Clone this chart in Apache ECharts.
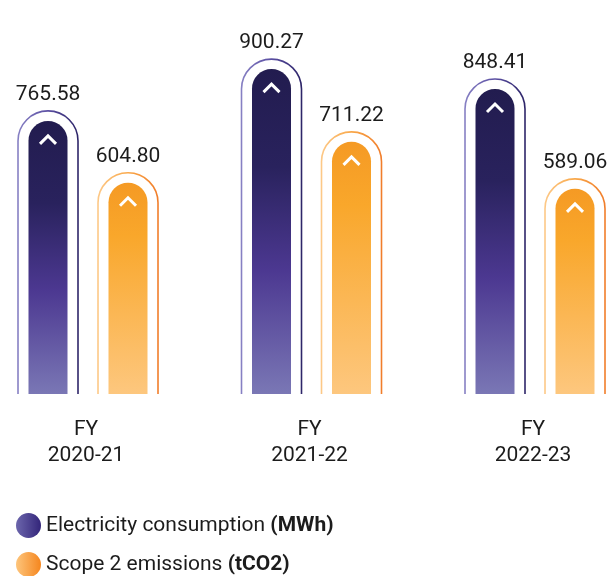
<!DOCTYPE html>
<html>
<head>
<meta charset="utf-8">
<script src="https://cdn.jsdelivr.net/npm/echarts@6/dist/echarts.min.js"></script>
<style>
html,body{margin:0;padding:0;background:#fff;}
#c{width:608px;height:576px;}
</style>
</head>
<body>
<div id="c"></div>
<script>
const categories = ['FY\n2020-21', 'FY\n2021-22', 'FY\n2022-23'];
const seriesNames = ['Electricity consumption', 'Scope 2 emissions'];
const units = ['(MWh)', '(tCO2)'];
const electricity = [765.58, 900.27, 848.41];
const scope2 = [604.80, 711.22, 589.06];

const chart = echarts.init(document.getElementById('c'), null, {renderer: 'canvas'});
const G = echarts.graphic.LinearGradient;
const Y_MIN = 56, Y_MAX = 1000;

const themes = [
  {
    offset: -38,
    fill: () => new G(0, 0, 0, 1, [
      {offset: 0, color: '#221c4f'},
      {offset: 0.3, color: '#29225d'},
      {offset: 0.62, color: '#4c3891'},
      {offset: 1, color: '#7a77b5'}
    ]),
    stroke: () => new G(0, 0, 1, 0, [
      {offset: 0, color: '#8a84c6'},
      {offset: 0.5, color: '#5a4ea2'},
      {offset: 1, color: '#2a2264'}
    ]),
    legend: () => new G(0, 0, 1, 0, [
      {offset: 0, color: '#6c66ac'},
      {offset: 1, color: '#33257a'}
    ])
  },
  {
    offset: 42,
    fill: () => new G(0, 0, 0, 1, [
      {offset: 0, color: '#f59a24'},
      {offset: 0.25, color: '#f9a72b'},
      {offset: 1, color: '#fdc77e'}
    ]),
    stroke: () => new G(0, 0, 1, 0, [
      {offset: 0, color: '#fdcb8c'},
      {offset: 0.5, color: '#f9a84a'},
      {offset: 1, color: '#f07a28'}
    ]),
    legend: () => new G(0, 0, 1, 0, [
      {offset: 0, color: '#fdc57c'},
      {offset: 1, color: '#f5861e'}
    ])
  }
];

function makeRender(t) {
  return function (params, api) {
    const i = api.value(0);
    const v = api.value(1);
    const p = api.coord([i, v]);
    const b = api.coord([i, Y_MIN]);
    const cx = p[0] + t.offset;
    const top = p[1];
    const bottom = b[1];
    const hw = 19.5;
    const ohw = 30;
    const otop = top - 10;
    const path = 'M ' + (cx - ohw) + ' ' + bottom +
      ' L ' + (cx - ohw) + ' ' + (otop + ohw) +
      ' A ' + ohw + ' ' + ohw + ' 0 0 1 ' + (cx + ohw) + ' ' + (otop + ohw) +
      ' L ' + (cx + ohw) + ' ' + bottom;
    return {
      type: 'group',
      children: [
        {
          type: 'path',
          shape: {pathData: path},
          style: {fill: null, stroke: t.stroke(), lineWidth: 1.6}
        },
        {
          type: 'rect',
          shape: {x: cx - hw, y: top, width: hw * 2, height: bottom - top, r: [hw, hw, 0, 0]},
          style: {fill: t.fill()}
        },
        {
          type: 'polyline',
          shape: {points: [[cx - 8, top + 23], [cx, top + 15], [cx + 8, top + 23]]},
          style: {stroke: '#ffffff', lineWidth: 3, fill: null}
        },
        {
          type: 'text',
          style: {
            text: v.toFixed(2), x: cx, y: top - 26.5,
            align: 'center', verticalAlign: 'middle',
            fontSize: 21, fontFamily: 'Roboto', fill: '#1c1c1c'
          }
        }
      ]
    };
  };
}

const dataSets = [electricity, scope2];

chart.setOption({
  animation: false,
  grid: {left: -25.75, right: -36.75, top: 30.7, bottom: 182, containLabel: false, outerBoundsMode: 'none'},
  legend: {
    orient: 'vertical',
    left: 16,
    top: 513,
    padding: 0,
    height: 70,
    itemWidth: 25,
    itemHeight: 25,
    itemGap: 14,
    icon: 'circle',
    data: seriesNames.map((n, k) => ({name: n, itemStyle: {color: themes[k].legend()}})),
    formatter: function (name) {
      const k = seriesNames.indexOf(name);
      return '{n|' + name + ' }{b|' + units[k] + '}';
    },
    textStyle: {
      rich: {
        n: {fontSize: 21, fontFamily: 'Roboto', color: '#1c1c1c'},
        b: {fontSize: 21, fontFamily: 'Roboto', fontWeight: 'bold', color: '#1c1c1c'}
      }
    }
  },
  xAxis: {
    type: 'category',
    data: categories,
    axisLine: {show: false},
    axisTick: {show: false},
    axisLabel: {fontSize: 21, fontFamily: 'Roboto', color: '#1c1c1c', lineHeight: 26, margin: 23, interval: 0}
  },
  yAxis: {
    type: 'value', min: Y_MIN, max: Y_MAX, show: false
  },
  series: dataSets.map((d, k) => ({
    type: 'custom',
    name: seriesNames[k],
    itemStyle: {color: themes[k].legend()},
    renderItem: makeRender(themes[k]),
    encode: {x: 0, y: 1},
    data: d.map((v, i) => [i, v]),
    clip: false
  }))
});
</script>
</body>
</html>
